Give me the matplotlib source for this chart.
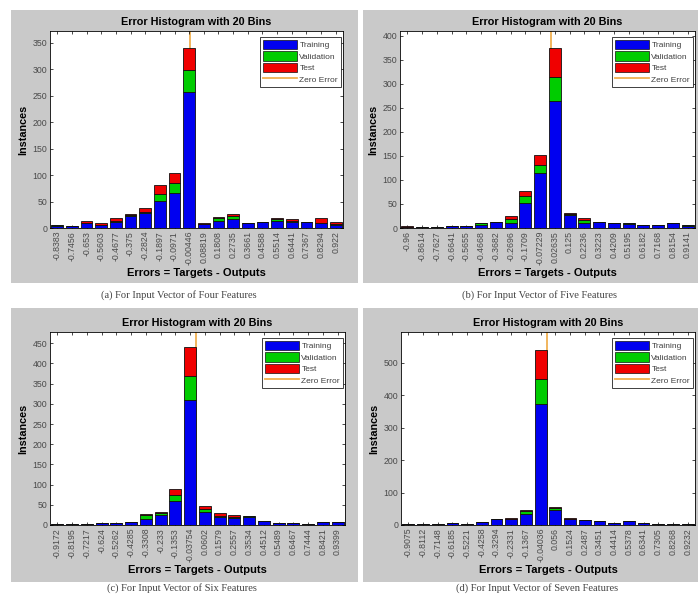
import matplotlib
matplotlib.use("Agg")
import matplotlib.pyplot as plt
from matplotlib.patches import Rectangle, Patch
from matplotlib.lines import Line2D
import numpy as np

plt.rcParams['font.family'] = ['Liberation Sans', 'DejaVu Sans']

# ---------------- data ----------------
labels_a = ["-0.8383", "-0.7456", "-0.653", "-0.5603", "-0.4677", "-0.375", "-0.2824", "-0.1897",
            "-0.0971", "-0.00446", "0.08819", "0.1808", "0.2735", "0.3661", "0.4588", "0.5514",
            "0.6441", "0.7367", "0.8294", "0.922"]
train_a = [3, 3, 9, 5, 12, 23, 29, 51, 66, 256, 8, 14, 17, 10, 11, 13, 12, 12, 9, 6]
valid_a = [2, 0, 1, 0, 2, 2, 2, 13, 19, 42, 0, 5, 6, 0, 0, 4, 1, 0, 1, 1]
test_a = [0, 1, 3, 4, 4, 2, 6, 18, 19, 42, 1, 1, 3, 0, 0, 1, 4, 0, 8, 5]

labels_b = ["-0.96", "-0.8614", "-0.7627", "-0.6641", "-0.5655", "-0.4668", "-0.3682", "-0.2696",
            "-0.1709", "-0.07229", "0.02635", "0.125", "0.2236", "0.3223", "0.4209", "0.5195",
            "0.6182", "0.7168", "0.8154", "0.9141"]
train_b = [3, 3, 3, 5, 5, 6, 13, 10, 52, 115, 264, 27, 11, 12, 10, 9, 6, 6, 10, 5]
valid_b = [0, 0, 0, 0, 0, 4, 0, 9, 14, 17, 51, 3, 6, 1, 0, 1, 0, 0, 0, 1]
test_b = [2, 0, 0, 0, 0, 1, 0, 7, 10, 20, 59, 2, 4, 0, 0, 0, 0, 0, 0, 1]

labels_c = ["-0.9172", "-0.8195", "-0.7217", "-0.624", "-0.5262", "-0.4285", "-0.3308", "-0.233",
            "-0.1353", "-0.03754", "0.0602", "0.1579", "0.2557", "0.3534", "0.4512", "0.5489",
            "0.6467", "0.7444", "0.8421", "0.9399"]
train_c = [2, 2, 3, 4, 5, 7, 16, 25, 60, 310, 31, 21, 18, 20, 10, 6, 6, 2, 7, 7]
valid_c = [1, 0, 0, 0, 0, 0, 8, 4, 14, 58, 8, 2, 1, 2, 0, 0, 0, 1, 0, 0]
test_c = [0, 0, 0, 0, 0, 0, 4, 2, 16, 72, 9, 7, 7, 0, 0, 0, 0, 0, 0, 0]

labels_d = ["-0.9075", "-0.8112", "-0.7148", "-0.6185", "-0.5221", "-0.4258", "-0.3294", "-0.2331",
            "-0.1367", "-0.04036", "0.056", "0.1524", "0.2487", "0.3451", "0.4414", "0.5378",
            "0.6341", "0.7305", "0.8268", "0.9232"]
train_d = [2, 3, 2, 6, 4, 10, 18, 17, 33, 372, 47, 19, 14, 12, 7, 13, 5, 3, 3, 3]
valid_d = [0, 1, 0, 0, 0, 0, 0, 2, 10, 78, 6, 1, 2, 0, 0, 0, 0, 0, 0, 1]
test_d = [0, 0, 0, 0, 0, 0, 0, 3, 4, 90, 4, 2, 0, 0, 0, 0, 0, 0, 0, 0]

ylim_tops = [372, 410, 478, 595]
ytick_steps = [50, 50, 50, 100]
captions = ["(a) For Input Vector of Four Features",
            "(b) For Input Vector of Five Features",
            "(c) For Input Vector of Six Features",
            "(d) For Input Vector of Seven Features"]

panels = [
    (labels_a, train_a, valid_a, test_a),
    (labels_b, train_b, valid_b, test_b),
    (labels_c, train_c, valid_c, test_c),
    (labels_d, train_d, valid_d, test_d),
]

# ---------------- layout (pixels) ----------------
W, H = 698, 595
fig = plt.figure(figsize=(W / 100, H / 100), dpi=100)
fig.patch.set_facecolor('white')

gray_boxes = [(11, 10, 358, 283), (363, 10, 698, 283), (11, 308, 358, 582), (363, 308, 698, 582)]
axes_boxes = [(50, 31, 343, 228), (400, 31, 695, 228), (50, 332, 345, 525), (401, 332, 695, 525)]
caption_pos = [(179, 295), (540, 295), (182, 588), (537, 588)]

GRAY = '#c9c9c9'
C_TRAIN = '#0000f0'
C_VAL = '#00cc00'
C_TEST = '#f00000'
C_ZERO = '#f0b050'

for (x0, y0, x1, y1) in gray_boxes:
    fig.patches.append(Rectangle((x0 / W, 1 - y1 / H), (x1 - x0) / W, (y1 - y0) / H,
                                 transform=fig.transFigure, facecolor=GRAY, edgecolor='none',
                                 zorder=-5))

for i, (labels, tr, va, te) in enumerate(panels):
    x0, y0, x1, y1 = axes_boxes[i]
    ax = fig.add_axes([x0 / W, 1 - y1 / H, (x1 - x0) / W, (y1 - y0) / H])
    ax.set_zorder(1)
    centers = np.array([float(s) for s in labels])
    step = np.mean(np.diff(centers))
    tr = np.array(tr); va = np.array(va); te = np.array(te)
    ax.axvline(0, color=C_ZERO, lw=1.3, zorder=1)
    kw = dict(width=0.8 * step, edgecolor='#101010', linewidth=0.6, zorder=2)
    ax.bar(centers, tr, color=C_TRAIN, **kw)
    ax.bar(centers, va, bottom=tr, color=C_VAL, **kw)
    ax.bar(centers, te, bottom=tr + va, color=C_TEST, **kw)
    ax.set_xlim(centers[0] - step / 2, centers[-1] + step / 2)
    ax.set_ylim(0, ylim_tops[i])
    ax.set_xticks(centers)
    ax.set_xticklabels(labels, rotation=90, fontsize=6.3, color='#4a4a4a')
    yt = np.arange(0, ylim_tops[i] + 1, ytick_steps[i])
    ax.set_yticks(yt)
    ax.set_yticklabels([str(v) for v in yt], fontsize=6.3, color='#4a4a4a')
    ax.tick_params(direction='in', length=2.5, width=0.5, top=True, right=True, pad=2)
    for s in ax.spines.values():
        s.set_linewidth(0.6)
    ax.set_title("Error Histogram with 20 Bins", fontsize=7.8, fontweight='bold', pad=4)
    ax.set_xlabel("Errors = Targets - Outputs", fontsize=8, fontweight='bold', labelpad=2)
    ax.set_ylabel("Instances", fontsize=7.8, fontweight='bold', labelpad=3)
    handles = [Patch(facecolor=C_TRAIN, edgecolor='#101010', linewidth=0.5),
               Patch(facecolor=C_VAL, edgecolor='#101010', linewidth=0.5),
               Patch(facecolor=C_TEST, edgecolor='#101010', linewidth=0.5),
               Line2D([], [], color=C_ZERO, lw=1.3)]
    bw = x1 - x0
    bh = y1 - y0
    leg = ax.legend(handles, ["Training", "Validation", "Test", "Zero Error"], loc='upper right',
                    bbox_to_anchor=(1 - 2 / bw, 1 - 6 / bh),
                    fontsize=6, frameon=True, fancybox=False, framealpha=1,
                    edgecolor='#202020', handlelength=4.0, handleheight=1.35,
                    borderpad=0.35, labelspacing=0.25, handletextpad=0.35,
                    borderaxespad=0.0)
    leg.get_frame().set_linewidth(0.6)
    for t in leg.get_texts():
        t.set_color('#404040')
    cx, cy = caption_pos[i]
    fig.text(cx / W, 1 - cy / H, captions[i], fontsize=7.6, family=['Liberation Serif', 'DejaVu Serif'],
             ha='center', va='center', color='#444444')

fig.savefig("out.png", dpi=100)
